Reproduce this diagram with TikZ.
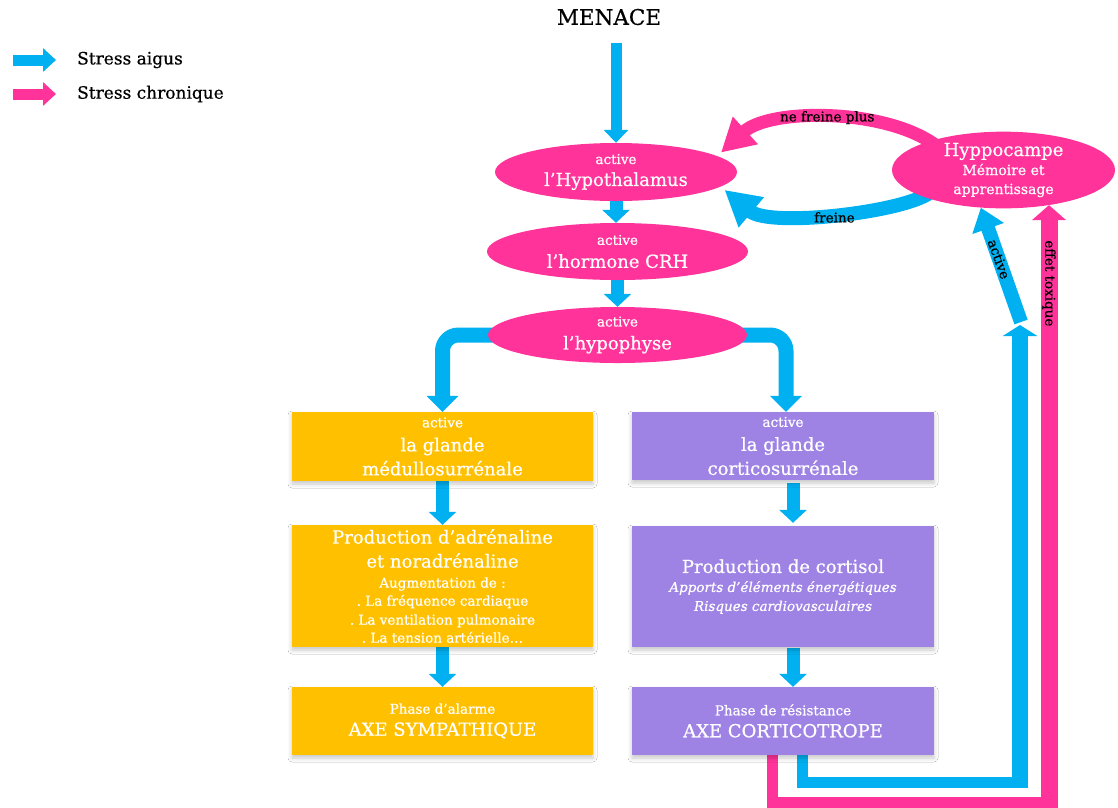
\documentclass[tikz,border=0pt]{standalone}
\usepackage{fontspec}
\setmainfont{DejaVu Serif}[FakeBold=0.6]
\usetikzlibrary{arrows.meta,shapes.geometric,calc,shadows.blur}
\definecolor{acute}{HTML}{00B0F0}
\definecolor{chronic}{HTML}{FF3399}
\definecolor{medulla}{HTML}{FFC000}
\definecolor{cortex}{HTML}{9E83E5}
\newcommand\setsz[2]{\fontsize{#1}{#2}\selectfont}
\pgfdeclarelayer{background}
\pgfsetlayers{background,main}
\frenchspacing

\begin{document}
\begin{tikzpicture}[x=1pt,y=-1pt,
  bubble/.style={ellipse, fill=chronic, text=white, inner sep=0pt, align=center},
  panel/.style={rectangle, text=white, inner sep=0pt, align=center,
    blur shadow={shadow xshift=0pt, shadow yshift=-3pt, shadow blur radius=4pt, shadow opacity=22}},
  yellowpanel/.style={panel, fill=medulla, minimum width=301, font=\setsz{18}{24}},
  purplepanel/.style={panel, fill=cortex, minimum width=302, font=\setsz{18}{24}},
  caption/.style={inner sep=0pt, text=black, font=\setsz{13.5}{16}},
  flow/.style={draw=acute, line width=13pt, -{Triangle[width=27pt,length=13pt]}},
  entryflow/.style={draw=acute, line width=11pt, -{Triangle[width=24pt,length=13pt]}},
  branch/.style={draw=acute, line width=15pt, rounded corners=16pt, -{Triangle[width=31pt,length=16pt]}},
  acuteloop/.style={draw=acute, line width=11pt},
  chronicloop/.style={draw=chronic, line width=11pt},
  acuteriser/.style={draw=acute, line width=16pt, -{Triangle[width=34pt,length=11pt]}},
  acutetilt/.style={draw=acute, line width=14pt, -{Triangle[width=32pt,length=22pt]}},
  chronicriser/.style={draw=chronic, line width=17pt, -{Triangle[width=33pt,length=15pt]}},
  bendchronic/.style={draw=chronic, line width=13pt, -{Triangle[width=35pt,length=33pt]}},
  bendacute/.style={draw=acute, line width=14pt, -{Triangle[width=37pt,length=35pt]}},
  legacute/.style={draw=acute, line width=11pt, -{Triangle[width=23pt,length=13pt]}},
  legchronic/.style={draw=chronic, line width=11pt, -{Triangle[width=23pt,length=13pt]}}
]
\useasboundingbox (0,0) rectangle (1118,807);

% legend
\coordinate (legA0) at (13,60);
\coordinate (legA1) at (56,60);
\coordinate (legC0) at (13,94);
\coordinate (legC1) at (56,94);
\node[anchor=west, inner sep=0pt, font=\setsz{17}{20}] (legAtext) at (77,60) {Stress aigus};
\node[anchor=west, inner sep=0pt, font=\setsz{17}{20}] (legCtext) at (77,94) {Stress chronique};

% central cascade
\node[inner sep=0pt, font=\setsz{21.5}{24}] (menace) at (609,17) {MENACE};
\node[bubble, minimum width=242, minimum height=58, font=\setsz{18}{22}] (hypo) at (616,172)
  {{\setsz{13.5}{16}active}\\{l’Hypothalamus}};
\node[bubble, minimum width=261, minimum height=57, font=\setsz{18}{23}] (crh) at (617.5,251.5)
  {{\setsz{13.5}{16}active}\\{l’hormone CRH}};
\node[bubble, minimum width=259, minimum height=56, font=\setsz{18}{23}] (pit) at (617.5,335)
  {{\setsz{13.5}{16}active}\\{l’hypophyse}};
\node[bubble, minimum width=223, minimum height=76, font=\setsz{18}{19}] (hippo) at (1003.5,170)
  {{Hyppocampe}\\{\setsz{14}{16}Mémoire et}\\{\setsz{14}{16}apprentissage}};

% sympathetic column
\node[yellowpanel, minimum height=69] (med) at (442.5,446.5)
  {{\setsz{13.5}{16}active}\\{la glande}\\{médullosurrénale}};
\node[yellowpanel, minimum height=122, font=\setsz{18}{18}] (adr) at (442.5,586)
  {{Production d’adrénaline}\\[6pt]{et noradrénaline}\\[2pt]
   {\setsz{13.5}{16}Augmentation de :}\\{\setsz{13.5}{16}. La fréquence cardiaque}\\[1pt]
   {\setsz{13.5}{16}. La ventilation pulmonaire}\\{\setsz{13.5}{16}. La tension artérielle…}};
\node[yellowpanel, minimum height=68, font=\setsz{18}{22}] (symp) at (442.5,721)
  {{\setsz{13.5}{16}Phase d’alarme}\\{AXE SYMPATHIQUE}};

% corticotropic column
\node[purplepanel, minimum height=68] (cort) at (783,446)
  {{\setsz{13.5}{16}active}\\{la glande}\\{corticosurrénale}};
\node[purplepanel, minimum height=121, font=\setsz{18}{19}] (cortisol) at (783,586.5)
  {{Production de cortisol}\\{\setsz{13.5}{16}\itshape Apports d’éléments énergétiques}\\
   {\setsz{13.5}{16}\itshape Risques cardiovasculaires}};
\node[purplepanel, minimum height=68, font=\setsz{18}{22}] (resist) at (783,721)
  {{\setsz{13.5}{16}Phase de résistance}\\{AXE CORTICOTROPE}};

% corner points of the feedback loops
\coordinate (acorner) at (1020,782);
\coordinate (ccorner) at (1049,802);
\coordinate (atop) at (1020,325);
\coordinate (abase) at (1021,322);

\begin{pgfonlayer}{background}
\fill[white] (0,0) rectangle (1118,807);

\draw[legacute] (legA0) -- (legA1);
\draw[legchronic] (legC0) -- (legC1);

\draw[entryflow] ($(menace.south -| hypo.north)+(0,18)$) -- (hypo.north);
\draw[flow] (hypo.south) -- (hypo.south |- crh.north);
\draw[flow] (crh.south) -- (crh.south |- pit.north);
\draw[branch] ([xshift=10pt]pit.west) -| (med.north);
\draw[branch] ([xshift=-10pt]pit.east) -| ([xshift=3pt]cort.north);

\draw[flow] (med.south) -- (adr.north);
\draw[flow] (adr.south) -- (symp.north);
\draw[flow, shorten <=3pt, shorten >=3pt] ([xshift=10pt]cort.south) -- ([xshift=10pt]cortisol.north);
\draw[flow, shorten <=1pt] ([xshift=10pt]cortisol.south) -- ([xshift=10pt]resist.north);

% acute loop back to the hippocampus
\draw[acuteloop] ([xshift=19pt]resist.south) |- (acorner);
\draw[acuteriser] ($(acorner)+(0,5.5)$) -- (atop);
\draw[acutetilt] (abase) -- (hippo.239)
  node[caption, pos=0.55, rotate=-70.2] (lblactive) {active};

% chronic loop back to the hippocampus
\draw[chronicloop] ([xshift=-11pt]resist.south) |- (ccorner);
\draw[chronicriser] ($(ccorner)+(0,5.5)$) -- (ccorner |- hippo.-37)
  node[caption, pos=0.87, rotate=-90] (lbltoxic) {effet toxique};

% hippocampus feedback on the hypothalamus
\draw[bendchronic, shorten >=5pt] ($(hippo.160)!0.12!(hippo.center)$)
  .. controls (885,108) and (770,108) .. (hypo.9)
  node[caption, pos=0.5, yshift=1pt] (lblnomore) {ne freine plus};
\draw[bendacute, shorten >=5pt] ($(hippo.197)!0.12!(hippo.center)$)
  .. controls (905,212) and (770,228) .. (hypo.-8)
  node[caption, pos=0.5, yshift=-5pt] (lblbrake) {freine};
\end{pgfonlayer}
\end{tikzpicture}
\end{document}
